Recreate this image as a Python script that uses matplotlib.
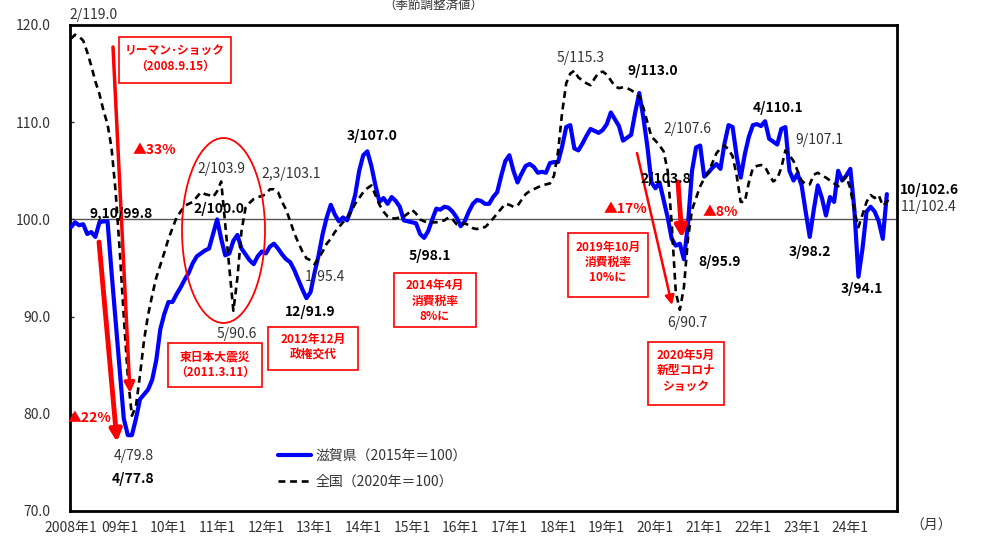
import matplotlib
matplotlib.use('Agg')
import matplotlib.pyplot as plt
from matplotlib.patches import Rectangle, Ellipse

plt.rcParams['font.family'] = ['Noto Sans CJK JP', 'DejaVu Sans']

# ---------------- data ----------------
year_labels = ['2008年1', '09年1', '10年1', '11年1', '12年1', '13年1', '14年1', '15年1',
               '16年1', '17年1', '18年1', '19年1', '20年1', '21年1', '22年1', '23年1', '24年1']

# 滋賀県（2015年＝100） monthly from 2008/1
shiga = [
    99.2, 99.7, 99.4, 99.5, 98.5, 98.7, 98.2, 99.7, 99.8, 99.8, 94.5, 89.5,      # 2008
    84.5, 79.5, 77.8, 77.8, 79.5, 81.5, 82.0, 82.5, 83.5, 85.5, 88.7, 90.3,      # 2009
    91.5, 91.5, 92.3, 93.0, 93.8, 94.5, 95.5, 96.2, 96.5, 96.8, 97.0, 98.5,      # 2010
    100.0, 98.0, 96.3, 96.5, 97.8, 98.4, 97.0, 96.4, 95.8, 95.4, 96.2, 96.7,     # 2011
    96.5, 97.2, 97.5, 97.0, 96.4, 95.9, 95.6, 94.8, 93.8, 92.8, 91.9, 92.5,      # 2012
    94.5, 96.3, 98.5, 100.2, 101.5, 100.5, 99.8, 100.2, 99.9, 101.0, 102.5, 105.0,  # 2013
    106.6, 107.0, 105.5, 103.5, 101.8, 102.2, 101.6, 102.3, 101.9, 101.3, 99.9, 99.8,  # 2014
    99.7, 99.6, 98.5, 98.1, 98.8, 100.0, 101.1, 101.0, 101.3, 101.2, 100.8, 100.2,  # 2015
    99.3, 99.8, 100.8, 101.6, 102.0, 101.9, 101.6, 101.6, 102.3, 102.8, 104.5, 106.0,  # 2016
    106.6, 105.0, 103.8, 104.7, 105.5, 105.7, 105.4, 104.8, 104.9, 104.8, 105.8, 105.9,  # 2017
    105.9, 107.5, 109.5, 109.7, 107.3, 107.1, 107.8, 108.6, 109.3, 109.1, 108.9, 109.2,  # 2018
    109.8, 111.0, 110.3, 109.6, 108.1, 108.4, 108.7, 111.0, 113.0, 110.5, 107.5, 103.8,  # 2019
    103.2, 103.8, 102.0, 100.2, 98.0, 97.3, 97.5, 95.9, 99.5, 105.0, 107.4, 107.6,  # 2020
    104.4, 104.8, 105.3, 105.7, 105.2, 107.8, 109.7, 109.5, 106.5, 104.3, 106.7, 108.5,  # 2021
    109.7, 109.8, 109.6, 110.1, 108.3, 108.0, 107.7, 109.3, 109.5, 105.0, 104.0, 104.7,  # 2022
    103.5, 100.8, 98.2, 101.0, 103.5, 102.2, 100.4, 102.3, 101.8, 105.0, 104.0, 104.5,  # 2023
    105.2, 101.0, 94.1, 97.0, 100.8, 101.3, 100.8, 99.8, 98.0, 102.6,              # 2024
]

# 全国（2020年＝100） monthly from 2008/1
zenkoku = [
    118.6, 119.0, 118.8, 118.4, 117.2, 115.8, 114.2, 112.9, 111.2, 109.8, 107.3, 102.8,  # 2008
    96.8, 90.0, 83.8, 79.8, 80.8, 84.0, 87.6, 90.2, 92.2, 94.0, 95.3, 96.6,      # 2009
    98.0, 99.1, 100.2, 100.8, 101.4, 101.6, 101.8, 102.3, 102.8, 102.6, 102.5, 102.3,  # 2010
    102.9, 103.9, 99.5, 95.0, 90.6, 94.0, 98.8, 101.2, 101.7, 102.1, 102.3, 102.4,  # 2011
    102.6, 103.1, 103.1, 102.8, 101.8, 101.0, 99.8, 98.6, 97.6, 96.7, 96.0, 95.8,  # 2012
    95.4, 96.0, 96.7, 97.5, 98.0, 98.7, 99.2, 99.7, 100.1, 100.8, 101.6, 102.2,   # 2013
    102.8, 103.2, 103.5, 102.5, 101.5, 100.8, 100.3, 100.1, 100.1, 100.2, 100.3, 100.6,  # 2014
    101.0, 100.6, 100.0, 99.8, 99.7, 99.7, 99.7, 99.8, 99.9, 100.2, 100.0, 99.5,  # 2015
    99.5, 99.6, 99.4, 99.1, 99.0, 99.2, 99.2, 99.6, 100.1, 100.6, 101.1, 101.6,   # 2016
    101.5, 101.3, 101.4, 102.0, 102.6, 102.9, 103.1, 103.3, 103.5, 103.6, 103.7, 104.5,  # 2017
    107.0, 111.0, 114.0, 115.0, 115.3, 114.6, 114.3, 114.0, 113.8, 114.5, 115.1, 115.2,  # 2018
    114.9, 114.3, 113.7, 113.5, 113.6, 113.5, 113.3, 113.0, 112.6, 111.5, 110.0, 108.5,  # 2019
    108.1, 107.6, 107.0, 105.0, 99.5, 92.5, 90.7, 93.0, 98.0, 101.0, 102.2, 103.4,  # 2020
    104.2, 104.8, 105.8, 106.8, 107.3, 107.6, 107.2, 106.5, 104.5, 101.8, 101.8, 103.8,  # 2021
    105.3, 105.5, 105.6, 105.4, 104.6, 103.9, 104.2, 105.3, 107.1, 106.6, 106.0, 105.0,  # 2022
    104.0, 103.6, 103.6, 104.6, 104.8, 104.5, 104.3, 104.0, 103.7, 103.4, 104.0, 104.4,  # 2023
    103.2, 100.8, 99.2, 100.5, 101.8, 102.5, 102.2, 102.5, 101.4, 101.8, 102.4,    # 2024
]

shiga_label = '滋賀県（2015年＝100）'
zenkoku_label = '全国（2020年＝100）'
y_ticks = [70, 80, 90, 100, 110, 120]

# ---------------- figure ----------------
W, H = 982, 537
fig = plt.figure(figsize=(W / 100, H / 100), dpi=100)
fig.patch.set_facecolor('white')
ax = fig.add_axes([70 / W, 1 - 511 / H, 827 / W, 486 / H])

x_shiga = list(range(len(shiga)))
x_zen = list(range(len(zenkoku)))

ax.axhline(100, color='#555555', lw=1.0, zorder=1)
ax.plot(x_shiga, shiga, color='#0000FF', lw=3.0, zorder=3, label=shiga_label,
        solid_joinstyle='round', solid_capstyle='round')
ax.plot(x_zen, zenkoku, color='black', lw=1.9, dashes=(2.6, 1.8), zorder=4,
        label=zenkoku_label)

ax.set_xlim(-0.25, 203.5)
ax.set_ylim(70, 120)
ax.set_yticks(y_ticks)
ax.set_yticklabels([f'{v:.1f}' for v in y_ticks])
ax.set_xticks(list(range(0, 12 * len(year_labels), 12)))
ax.set_xticklabels(year_labels)
ax.tick_params(axis='y', direction='in', length=3, width=1, labelsize=10,
               pad=14, colors='#333333')
ax.tick_params(axis='x', length=0, labelsize=10, pad=7, colors='#333333')
for s in ax.spines.values():
    s.set_linewidth(2.0)
    s.set_color('black')

leg = ax.legend(loc='upper left', bbox_to_anchor=((272 - 70) / 827, (511 - 443) / 486),
                frameon=False, fontsize=10, handlelength=2.4, labelspacing=0.85,
                borderaxespad=0, handletextpad=0.3, borderpad=0.4)
for t in leg.get_texts():
    t.set_color('#333333')


def P(x, y):
    return (x / W, 1 - y / H)


# title (at the very top)
fig.text(*P(433, 0), '（季節調整済値）', ha='center', va='top', fontsize=9, color='#333333')
fig.text(*P(931, 526), '（月）', ha='center', va='center', fontsize=10, color='#333333')

# value labels
value_labels = [
    ('2/119.0', 93, 15, False), ('9,10/99.8', 121, 214, True),
    ('2/103.9', 221, 169, False), ('2/100.0', 219, 209, True),
    ('2,3/103.1', 291, 174, False), ('5/90.6', 237, 334, False),
    ('4/79.8', 134, 456, False), ('4/77.8', 133, 479, True),
    ('1/95.4', 325, 277, False), ('12/91.9', 310, 312, True),
    ('3/107.0', 372, 136, True), ('5/98.1', 430, 256, True),
    ('5/115.3', 581, 58, False), ('9/113.0', 653, 71, True),
    ('2/107.6', 687, 129, False), ('2/103.8', 666, 179, True),
    ('8/95.9', 720, 262, True), ('6/90.7', 687, 323, False),
    ('4/110.1', 778, 108, True), ('9/107.1', 819, 140, False),
    ('3/98.2', 810, 252, True), ('3/94.1', 862, 289, True),
    ('10/102.6', 929, 190, True), ('11/102.4', 929, 207, False),
]
for txt, x, y, bold in value_labels:
    fig.text(*P(x, y), txt, ha='center', va='center', fontsize=10,
             fontweight='bold' if bold else 'normal',
             color='black' if bold else '#333333', zorder=6)

# red event boxes
boxes = [
    (119, 37, 231, 83, ['リーマン･ショック', '（2008.9.15）'], [50, 66]),
    (168, 343, 262, 387, ['東日本大震災', '（2011.3.11）'], [357, 372]),
    (268, 327, 358, 370, ['2012年12月', '政権交代'], [339, 355]),
    (394, 273, 476, 327, ['2014年4月', '消費税率', '8%に'], [285, 301, 316]),
    (568, 233, 648, 297, ['2019年10月', '消費税率', '10%に'], [247, 262, 277]),
    (648, 342, 724, 405, ['2020年5月', '新型コロナ', 'ショック'], [355, 370, 386]),
]
for x0, y0, x1, y1, lines, ys in boxes:
    fig.patches.append(Rectangle(P(x0, y1), (x1 - x0) / W, (y1 - y0) / H,
                                 transform=fig.transFigure, facecolor='white',
                                 edgecolor='#FF0000', lw=1.2, zorder=5))
    for ln, yy in zip(lines, ys):
        fig.text(*P((x0 + x1) / 2, yy), ln, ha='center', va='center', fontsize=8.5,
                 fontweight='bold', color='#FF0000', zorder=6)

# ellipse around 2011
fig.patches.append(Ellipse(P(223.5, 230.5), 83 / W, 185 / H, transform=fig.transFigure,
                           fill=False, edgecolor='#FF0000', lw=1.3, zorder=5))

# percentage labels
for txt, x, y in [('▲33%', 154, 150), ('▲22%', 90, 418), ('▲17%', 625, 209), ('▲8%', 720, 212)]:
    fig.text(*P(x, y), txt, ha='center', va='center', fontsize=10, fontweight='bold',
             color='#FF0000', zorder=6)

# red arrows
arrows = [(113, 47, 130, 393, 2.5), (99, 242, 117, 442, 3.5),
          (637, 153, 672, 305, 1.8), (678, 182, 682, 238, 3.5)]
for x0, y0, x1, y1, lw in arrows:
    ax.annotate('', xy=P(x1, y1), xytext=P(x0, y0), xycoords='figure fraction',
                textcoords='figure fraction',
                arrowprops=dict(arrowstyle='-|>', color='#FF0000', lw=lw,
                                mutation_scale=10 + 2 * lw, shrinkA=0, shrinkB=0),
                zorder=5)

fig.savefig('out.png', dpi=100, facecolor='white')
